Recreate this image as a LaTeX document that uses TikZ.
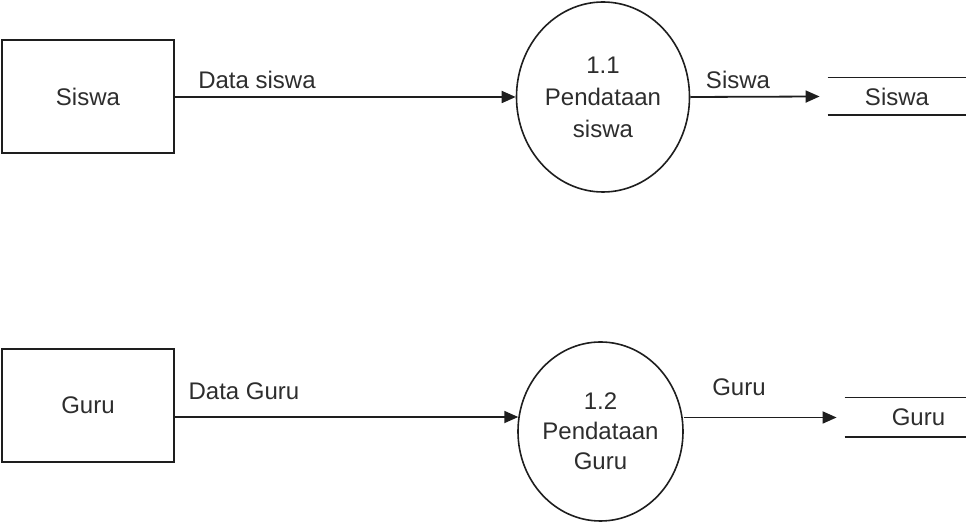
\documentclass[tikz,border=0pt]{standalone}
\usepackage{fontspec}
\setmainfont{Liberation Sans}
\usetikzlibrary{shapes.geometric,arrows.meta,positioning}
\definecolor{inkline}{RGB}{30,30,30}
\definecolor{inktext}{RGB}{45,45,45}

\begin{document}
\begin{tikzpicture}[
    x=0.5pt, y=-0.5pt,
    every node/.style={font=\fontsize{12}{16}\selectfont, text=inktext},
    entity/.style={rectangle, draw=inkline, line width=0.9pt, minimum width=86pt, minimum height=56.5pt},
    process/.style={ellipse, draw=inkline, line width=0.8pt, align=center, inner sep=0pt},
    store/.style={rectangle, inner sep=0pt},
    arrow/.style={-{Triangle[length=7pt,width=6pt]}, line width=0.9pt, color=inkline},
]
\useasboundingbox (0,0) rectangle (966,523);

% External entities
\node[entity] (siswa) at (88,96.5) {Siswa};
\node[entity] (guru) at (88,405.5) {Guru};

% Processes
\node[process, minimum width=86.5pt, minimum height=95pt] (psiswa) at (603,97) {1.1\\Pendataan\\siswa};
\node[process, minimum width=82.5pt, minimum height=89.5pt, font=\fontsize{12}{15}\selectfont] (pguru) at (600.5,431.5) {1.2\\Pendataan\\Guru};

% Data stores
\node[store, minimum width=69pt, minimum height=18.5pt] (ssiswa) at (897,96.5) {Siswa};
\node[store, minimum width=60.5pt, minimum height=19.5pt] (sguru) at (905.5,417.5) {\hspace*{13pt}Guru};
\draw[inkline, line width=0.9pt] (ssiswa.north west) -- (ssiswa.north east);
\draw[inkline, line width=0.9pt] (ssiswa.south west) -- (ssiswa.south east);
\draw[inkline, line width=0.9pt] (sguru.north west) -- (sguru.north east);
\draw[inkline, line width=0.9pt] (sguru.south west) -- (sguru.south east);

% Flows
\draw[arrow] (siswa.east |- psiswa.west) -- (psiswa.west);
\draw[arrow] (psiswa.east) -- ([xshift=-4pt]ssiswa.west);
\draw[arrow] (guru.east |- pguru.170) -- (pguru.170);
\draw[arrow] (pguru.east |- sguru.west) -- ([xshift=-4pt]sguru.west);

% Flow labels
\node (l1) at (257,80) {Data siswa};
\node (l2) at (738,80) {Siswa};
\node (l3) at (244,391) {Data Guru};
\node (l4) at (739,387) {Guru};

\end{tikzpicture}
\end{document}
